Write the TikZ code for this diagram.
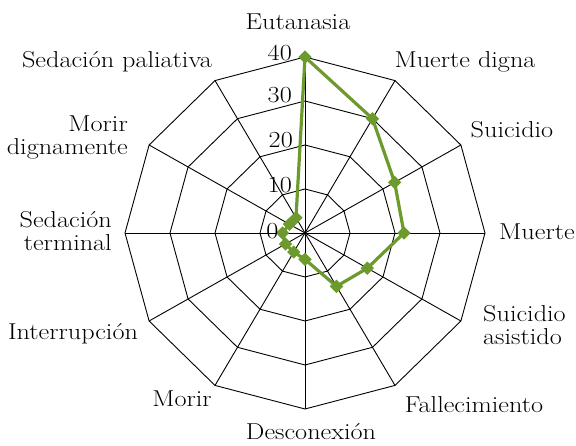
\documentclass[tikz,border=0pt]{standalone}
\usepackage{fontspec}
\setmainfont{Latin Modern Roman}[FakeStretch=1.14]
\usepackage{tikz}
\usetikzlibrary{shapes.geometric}
\definecolor{verde}{RGB}{108,154,44}

\begin{document}
\begin{tikzpicture}[x=1pt,y=1pt,
	rotulo/.style={font=\fontsize{23}{23.5}\selectfont,inner sep=0pt},
	red/.style={black,line width=0.9pt},
	serie/.style={verde,line width=3.2pt,line join=round},
	marca/.style={diamond,fill=verde,inner sep=0pt,minimum size=13.5pt}]
	\useasboundingbox (0,0) rectangle (576,446);
	%
	% red radial
	%
	\begin{scope}[shift={(305,213)},x=4.5pt,y=4.4pt]
	\coordinate (o) at (0,0);
	\foreach \a in {90,60,...,-240}
		\draw [red] (o) -- (\a:40);
	\foreach \r in {10,20,30,40}
		\draw [red] (90:\r) \foreach \a in {60,30,...,-240} {-- (\a:\r)} -- cycle;
	%
	% datos
	%
	\coordinate (p1) at (90:40);
	\coordinate (p2) at (60:30);
	\coordinate (p3) at (30:23);
	\coordinate (p4) at (0:22);
	\coordinate (p5) at (-30:16);
	\coordinate (p6) at (-60:14);
	\coordinate (p7) at (-90:6);
	\coordinate (p8) at (-120:5);
	\coordinate (p9) at (-150:5);
	\coordinate (p10) at (180:5);
	\coordinate (p11) at (150:4);
	\coordinate (p12) at (120:4);
	\draw [serie] (p1) -- (p2) -- (p3) -- (p4) -- (p5) -- (p6) -- (p7)
		-- (p8) -- (p9) -- (p10) -- (p11) -- (p12) -- cycle;
	\foreach \i in {1,...,12}
		\node [marca] (m\i) at (p\i) {};
	\end{scope}
	%
	% escala
	%
	\node [rotulo,anchor=base east] (e40) at (292,385) {40};
	\node [rotulo,anchor=base east] (e30) at (292,343) {30};
	\node [rotulo,anchor=base east] (e20) at (293,298) {20};
	\node [rotulo,anchor=base east] (e10) at (292,253) {10};
	\node [rotulo,anchor=base] (e0) at (272.5,207) {0};
	%
	% categorias
	%
	\node [rotulo,anchor=base] (eut) at (298,416) {Eutanasia};
	\node [rotulo,anchor=base] (mdi) at (465,378) {Muerte digna};
	\node [rotulo,anchor=base] (sui) at (512,308) {Suicidio};
	\node [rotulo,anchor=base west] (mue) at (499,206) {Muerte};
	\node [rotulo,anchor=base west,align=left] (sas) at (483,101) {Suicidio\\asistido};
	\node [rotulo,anchor=base] (fal) at (474,33) {Fallecimiento};
	\node [rotulo,anchor=base] (des) at (311,6) {Desconexión};
	\node [rotulo,anchor=base] (mor) at (182,39) {Morir};
	\node [rotulo,anchor=base] (int) at (73,106) {Interrupción};
	\node [rotulo,anchor=base east,align=right] (ste) at (112,195) {Sedación\\terminal};
	\node [rotulo,anchor=base east,align=right] (mdg) at (128,291) {Morir\\dignamente};
	\node [rotulo,anchor=base] (spa) at (117,378) {Sedación paliativa};
\end{tikzpicture}
\end{document}
